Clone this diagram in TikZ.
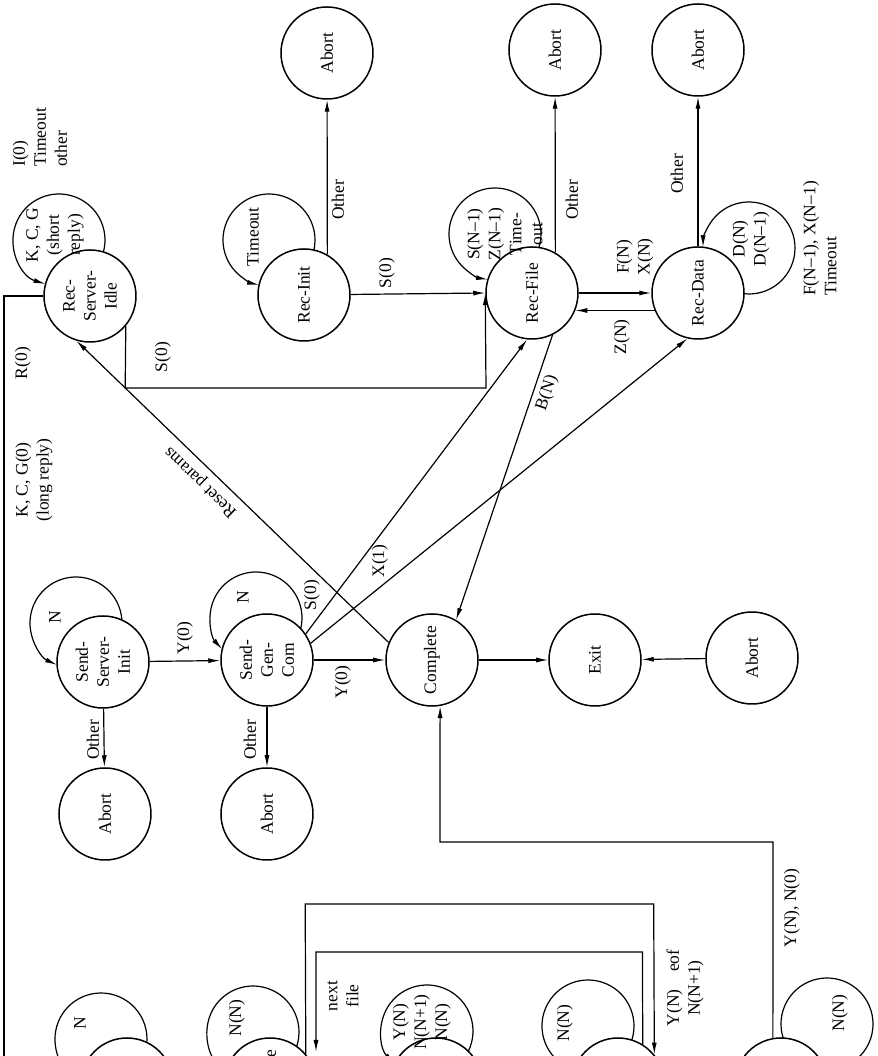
\documentclass[tikz,border=0pt]{standalone}
\usepackage{fontspec}
\setmainfont{Liberation Serif}
\usepackage{tikz}
\usetikzlibrary{calc,arrows.meta}
\tikzstyle{state} = [circle, draw=black, line width=1.5pt, minimum size=92pt, inner sep=0pt, align=center, font=\fontsize{17.5}{21}\selectfont]
\tikzstyle{lbl}   = [inner sep=1pt, align=center, font=\fontsize{17.5}{21}\selectfont]
\tikzstyle{arrow} = [line width=1.2pt, ->, >={Latex[length=12pt,width=5pt]}]

\begin{document}
\begin{tikzpicture}[x=1pt, y=1pt, rotate=90, transform shape]
        \useasboundingbox (0,0) rectangle (1056,877);
        \clip (0,0) rectangle (1056,877);

        \node[state] (rsi) at (760,787) {Rec-\\Server-\\Idle};
        \node[state] (recinit) at (761,573) {Rec-Init};
        \node[state] (recfile) at (763,345) {Rec-File};
        \node[state] (recdata) at (763,179) {Rec-Data};
        \node[state] (abortri) at (1003,550) {Abort};
        \node[state] (abortrf) at (1006,322) {Abort};
        \node[state] (abortrd) at (1006,179) {Abort};

        \node[state] (ssi) at (394,774) {Send-\\Server-\\Init};
        \node[state] (sgc) at (396,610) {Send-\\Gen-\\Com};
        \node[state] (complete) at (396,445) {Complete};
        \node[state] (exit) at (396,282) {Exit};
        \node[state] (abortx) at (398,125) {Abort};
        \node[state] (abortssi) at (242,772) {Abort};
        \node[state] (abortsgc) at (242,610) {Abort};

        \node[state] (sinit) at (-28,750) {};
        \node[state] (sfile) at (-28,607) {Send-File};
        \node[state] (sdata) at (-28,441) {};
        \node[state] (seof) at (-28,259) {};
        \node[state] (sbrk) at (-28,96) {};

        \coordinate (rsiloop) at (816,818);
        \coordinate (initloop) at (816,608);
        \coordinate (fileloop) at (822,382);
        \coordinate (dataloop) at (808,128);
        \coordinate (ssiloop) at (433,801);
        \coordinate (sgcloop) at (438,621);
        \coordinate (sinitloop) at (17,776);
        \coordinate (sfileloop) at (24,624);
        \coordinate (sdataloop) at (25,450);
        \coordinate (seofloop) at (30,289);
        \coordinate (sbrkloop) at (32,50);
        \coordinate (nfend) at (4,561);

        \draw[arrow] ($(rsiloop)+(254.9:46pt)$) arc[start angle=254.9, end angle=523.1, radius=46pt];
        \draw[arrow] ($(initloop)+(257.3:46pt)$) arc[start angle=257.3, end angle=527.6, radius=46pt];
        \draw[arrow] ($(fileloop)+(252.9:46pt)$) arc[start angle=252.9, end angle=531.3, radius=46pt];
        \draw[arrow] ($(dataloop)+(173.7:46pt)$) arc[start angle=173.7, end angle=449.1, radius=46pt];
        \draw[arrow] ($(ssiloop)+(273.7:46pt)$) arc[start angle=273.7, end angle=515.7, radius=46pt];
        \draw[arrow] ($(sgcloop)+(256.5:46pt)$) arc[start angle=256.5, end angle=492.8, radius=46pt];
        \draw[arrow] ($(sinitloop)+(265.6:46pt)$) arc[start angle=265.6, end angle=514.4, radius=46pt];
        \draw[arrow] ($(sfileloop)+(251.6:46pt)$) arc[start angle=251.6, end angle=504.6, radius=46pt];
        \draw[arrow] ($(sdataloop)+(243.9:46pt)$) arc[start angle=243.9, end angle=495.4, radius=46pt];
        \draw[arrow] ($(seofloop)+(252.2:46pt)$) arc[start angle=252.2, end angle=522.6, radius=46pt];
        \draw[arrow] ($(sbrkloop)+(107.8:46pt)$) arc[start angle=107.8, end angle=-182.8, radius=46pt];

        \draw[arrow] (rsi.230) -- (668,751.8) -- (668,391) -- (recfile.north);
        \draw[arrow] (rsi.north) -- (760,873) -- (-95,873) -- (-95,750) -- (sinit.west);
        \draw[arrow] (recinit) -- (recfile.north);
        \draw[arrow] (recinit.330) -- (abortri);
        \draw[arrow] (recfile.330) -- (abortrf);
        \draw[arrow] (recdata.east) -- (abortrd);
        \draw[arrow] (recfile.south) -- (recdata.north);
        \draw[arrow] (recdata.112) -- (recfile.248);
        \draw[arrow] (recfile.206) -- (complete.329);
        \draw[arrow] (complete.68) -- (rsi.163);
        \draw[arrow] (sgc.304) -- (recfile.174);
        \draw[arrow] (sgc.291) -- (recdata.167);
        \draw[arrow] (ssi) -- (sgc);
        \draw[arrow] (ssi) -- (abortssi);
        \draw[arrow] (sgc) -- (abortsgc);
        \draw[arrow] (sgc) -- (complete);
        \draw[arrow] (complete) -- (exit);
        \draw[arrow] (abortx) -- (exit);
        \draw[arrow] (sbrk.10) -- (214,104) -- (214,437) -- (complete.190);
        \draw[arrow] (sfile.310) -- (152,571.8) -- (152,223.3) -- (seof.309);
        \draw[arrow] (seof.328) -- (104,234.6) -- (104,561) -- (nfend);

        \node[lbl, anchor=west, align=left] (lidleout) at (888,837) {I(0)\\Timeout\\other};
        \node[lbl] (lidle) at (821,822) {K, C, G\\(short\\reply)};
        \node[lbl] (linit) at (819,624) {Timeout};
        \node[lbl] (lother1) at (856,539) {Other};
        \node[lbl] (ls0a) at (783,490) {S(0)};
        \node[lbl] (ls0b) at (699,714) {S(0)};
        \node[lbl] (lr0) at (693,854) {R(0)};
        \node[lbl] (lkcg) at (576,843) {K, C, G(0)\\(long reply)};
        \node[lbl, rotate=45.9] (lreset) at (574,676) {Reset params};
        \node[lbl, rotate=-18.6] (lbn) at (663,330) {B(N)};
        \node[lbl] (lfile) at (822,372) {S(N\textendash1)\\Z(N\textendash1)\\Time-\\out};
        \node[lbl] (lfx) at (799,242) {F(N)\\X(N)};
        \node[lbl] (lzn) at (719,255) {Z(N)};
        \node[lbl] (lother2) at (856,305) {Other};
        \node[lbl] (lother3) at (882,200) {Other};
        \node[lbl] (ldata) at (817,126) {D(N)\\D(N\textendash1)};
        \node[lbl, anchor=west, align=left] (ldataout) at (759,57) {F(N\textendash1), X(N\textendash1)\\Timeout};
        \node[lbl] (lssi) at (439,822) {N};
        \node[lbl] (lsgc) at (459,634) {N};
        \node[lbl] (ly0a) at (418,692) {Y(0)};
        \node[lbl] (lother4) at (316,784) {Other};
        \node[lbl] (lother5) at (316,627) {Other};
        \node[lbl] (ly0b) at (374,534) {Y(0)};
        \node[lbl] (ls0c) at (461,565) {S(0)};
        \node[lbl] (lx1) at (495,497) {X(1)};
        \node[lbl] (lnext) at (60,534) {next\\file};
        \node[lbl] (leof) at (68,192) {Y(N)\quad eof\\N(N+1)};
        \node[lbl] (lbrk) at (148,85) {Y(N), N(0)};
        \node[lbl] (linitloop) at (33,797) {N};
        \node[lbl] (lfileloop) at (38,640) {N(N)};
        \node[lbl] (ldataloop) at (34,455) {Y(N)\\N(N+1)\\N(N)};
        \node[lbl] (leofloop) at (33,312) {N(N)};
        \node[lbl] (lbrkloop) at (43,37) {N(N)};
\end{tikzpicture}
\end{document}
